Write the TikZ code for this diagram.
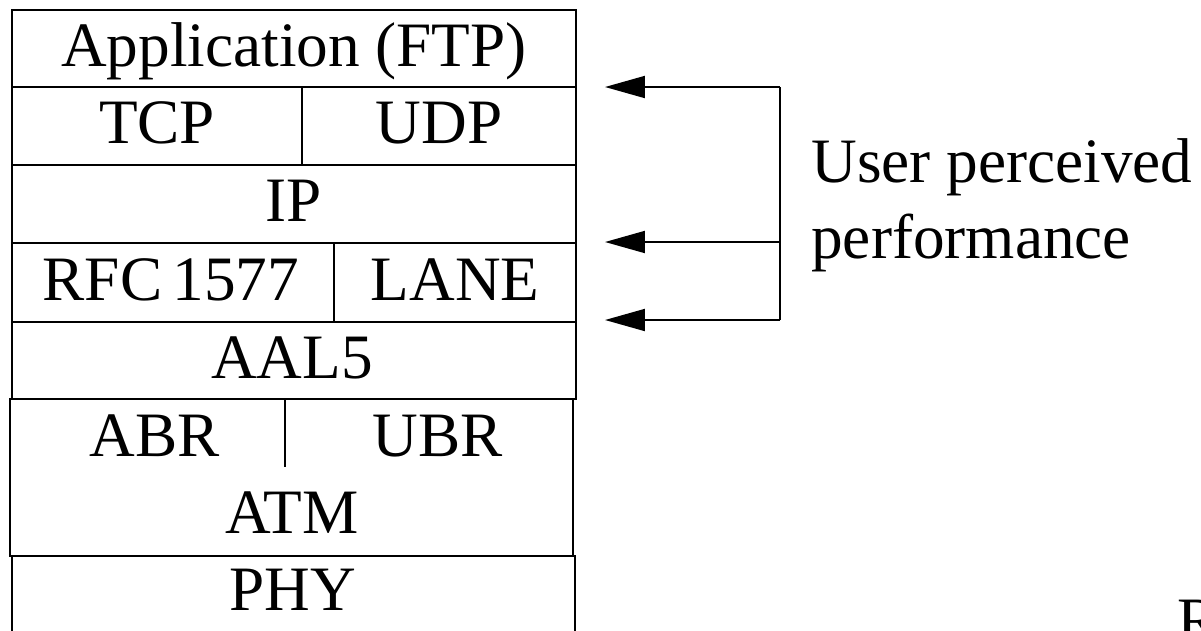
\documentclass[tikz,border=0pt]{standalone}
\usepackage{fontspec}
\setmainfont{Liberation Serif}
\usetikzlibrary{arrows.meta}
\tikzset{
  layer/.style={font=\fontsize{36}{43.2}\selectfont, inner sep=0pt,
    text height=23.8pt, text depth=3.6pt},
  box/.style={line width=1.1pt},
  perfarrow/.style={line width=1.1pt, -{Triangle[length=0.8cm,width=0.44cm]}}
}
\begin{document}
\begin{tikzpicture}[x=0.02cm, y=-0.02cm]
      \useasboundingbox (0,0) rectangle (1201,630);
      \clip (0,0) rectangle (1201,630);
      % protocol stack
      \draw[box] (12,10) rectangle (576,87);
      \draw[box] (12,87) rectangle (576,165);
      \draw[box] (302,87) -- (302,165);
      \draw[box] (12,165) rectangle (576,243);
      \draw[box] (12,243) rectangle (576,322);
      \draw[box] (334,243) -- (334,322);
      \draw[box] (12,322) rectangle (576,399);
      \draw[box] (10,399) rectangle (573,556);
      \draw[line width=0.7pt] (285,399) -- (285,467);
      \draw[box] (12,556) rectangle (575,650);
      \node[layer] (app) at (294,48.5) {Application (FTP)};
      \node[layer] (tcp) at (157,126) {TCP};
      \node[layer] (udp) at (439,126) {UDP};
      \node[layer] (ip) at (294,204) {IP};
      \node[layer] (rfc) at (171,282.5) {RFC\,1577};
      \node[layer] (lane) at (455,282.5) {LANE};
      \node[layer] (aal) at (292,360.5) {AAL5};
      \node[layer] (abr) at (155,439) {ABR};
      \node[layer] (ubr) at (438,439) {UBR};
      \node[layer] (atm) at (292,515.5) {ATM};
      \node[layer] (phy) at (293,593) {PHY};
      % user perceived performance
      \coordinate (top) at (780,87);
      \coordinate (mid) at (780,242);
      \coordinate (bot) at (780,320);
      \coordinate (toptip) at (605,87);
      \coordinate (midtip) at (605,242);
      \coordinate (bottip) at (605,320);
      \draw[perfarrow] (top) -- (toptip);
      \draw[perfarrow] (mid) -- (midtip);
      \draw[perfarrow] (bot) -- (bottip);
      \draw[box] (top) -- (bot);
      \node[font=\fontsize{36}{43.2}\selectfont, align=left, inner sep=0pt,
        anchor=north west] (perf) at (811,138) {User perceived\\performance};
      \node[font=\fontsize{36}{43.2}\selectfont, inner sep=0pt, anchor=base west]
        (rmark) at (1177,641) {R};
\end{tikzpicture}
\end{document}
